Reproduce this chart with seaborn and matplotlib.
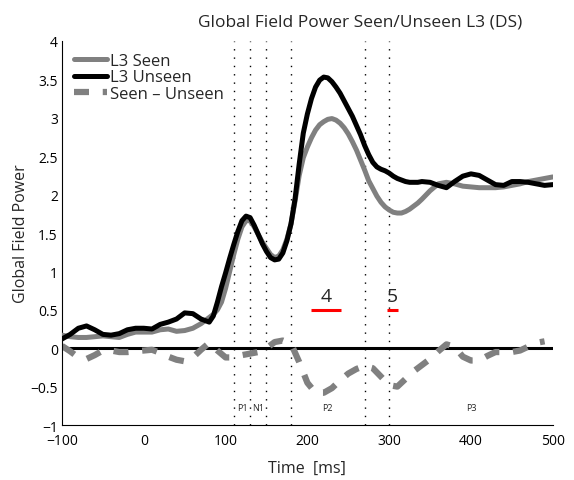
import numpy as np
import pandas as pd
import matplotlib
matplotlib.use("Agg")
import matplotlib.pyplot as plt
import seaborn as sns

time_ms = list(range(-100, 80, 10)) + list(range(80, 340, 5)) + list(range(340, 501, 10))
seen = [0.17, 0.15, 0.14, 0.14, 0.15, 0.16, 0.15, 0.14, 0.18, 0.21,
        0.21, 0.21, 0.24, 0.25, 0.22, 0.23, 0.26, 0.32,
        0.40, 0.44, 0.50, 0.60, 0.78, 1.00, 1.22, 1.42, 1.58, 1.66,
        1.66, 1.58, 1.48, 1.38, 1.30, 1.22, 1.18, 1.20, 1.28, 1.42,
        1.62, 1.92, 2.25, 2.48, 2.62, 2.74, 2.84, 2.91, 2.95, 2.98,
        2.99, 2.97, 2.93, 2.87, 2.79, 2.69, 2.58, 2.45, 2.32, 2.18,
        2.08, 1.98, 1.90, 1.84, 1.80, 1.77, 1.76, 1.76, 1.78, 1.81,
        1.85, 1.89,
        1.94, 2.05, 2.14, 2.16, 2.14, 2.11, 2.10, 2.09, 2.09, 2.09,
        2.10, 2.12, 2.14, 2.17, 2.19, 2.21, 2.23]
unseen = [0.12, 0.18, 0.26, 0.29, 0.24, 0.18, 0.17, 0.19, 0.24, 0.26,
          0.26, 0.25, 0.31, 0.34, 0.38, 0.46, 0.45, 0.38,
          0.34, 0.42, 0.60, 0.80, 0.98, 1.17, 1.35, 1.52, 1.66, 1.72,
          1.70, 1.60, 1.48, 1.36, 1.26, 1.18, 1.15, 1.16, 1.24, 1.40,
          1.62, 1.95, 2.40, 2.80, 3.05, 3.25, 3.40, 3.49, 3.53, 3.52,
          3.47, 3.40, 3.32, 3.22, 3.12, 3.02, 2.90, 2.78, 2.64, 2.52,
          2.42, 2.36, 2.33, 2.31, 2.28, 2.24, 2.21, 2.19, 2.17, 2.16,
          2.16, 2.16,
          2.17, 2.16, 2.12, 2.09, 2.17, 2.24, 2.27, 2.25, 2.19, 2.13,
          2.12, 2.17, 2.17, 2.16, 2.14, 2.12, 2.13]
diff_time = list(range(-100, 491, 10))
diff = [0.03, -0.04, -0.12, -0.14, -0.09, -0.03, -0.03, -0.05, -0.05, -0.04,
        -0.03, -0.02, -0.06, -0.11, -0.15, -0.17, -0.12, -0.02, 0.07, -0.03,
        -0.12, -0.12, -0.09, -0.07, -0.05, 0.0, 0.08, 0.10, 0.06, -0.18,
        -0.45, -0.58, -0.58, -0.52, -0.42, -0.33, -0.27, -0.23, -0.26, -0.37,
        -0.48, -0.50, -0.40, -0.30, -0.22, -0.14, -0.04, 0.05, 0.02, -0.11,
        -0.16, -0.16, -0.10, -0.05, -0.05, -0.05, -0.03, 0.02, 0.07, 0.09]

boundaries = [110, 130, 150, 180, 270, 300]
comp_labels = ["P1", "N1", "P2", "P3"]
comp_pos = [120, 140, 225, 400]
win_labels = ["4", "5"]
win_start = [204, 297]
win_end = [241, 311]
win_y = [0.5, 0.5]

sns.set_style("white")
plt.rcParams['font.family'] = ['Open Sans', 'DejaVu Sans']

fig = plt.figure(figsize=(5.74, 4.81), dpi=100)
ax = fig.add_axes([0.108, 0.1143, 0.855, 0.7984])

df_s = pd.DataFrame({"t": time_ms, "v": seen})
df_u = pd.DataFrame({"t": time_ms, "v": unseen})
df_d = pd.DataFrame({"t": diff_time, "v": diff})

ax.axhline(0, color="black", lw=2.2, zorder=1)
for b in boundaries:
    ax.axvline(b, color="black", lw=1.0, ls=(0, (1, 5)), zorder=0)

sns.lineplot(data=df_s, x="t", y="v", ax=ax, color="#808080", lw=3.6,
             label="L3 Seen", zorder=3, solid_joinstyle="round")
sns.lineplot(data=df_u, x="t", y="v", ax=ax, color="black", lw=3.6,
             label="L3 Unseen", zorder=4, solid_joinstyle="round")
sns.lineplot(data=df_d, x="t", y="v", ax=ax, color="#808080", lw=4.5,
             label="Seen \u2013 Unseen", zorder=2)
ax.lines[-1].set_linestyle((0, (2.4, 2.2)))

for lab, xs, xe, yy in zip(win_labels, win_start, win_end, win_y):
    ax.plot([xs, xe], [yy, yy], color="red", lw=2.2, solid_capstyle="butt")
    ax.text((xs + xe) / 2, yy + 0.06, lab, ha="center", va="bottom", fontsize=14)

for lab, xp in zip(comp_labels, comp_pos):
    ax.text(xp, -0.77, lab, ha="center", va="center", fontsize=6.5,
            bbox=dict(facecolor="white", edgecolor="none", pad=0.3))

ax.set_xlim(-100, 500)
ax.set_ylim(-1, 4)
ax.set_xticks(range(-100, 501, 100))
ax.set_yticks(np.arange(-1, 4.01, 0.5))
ax.set_yticklabels(["\u22121" if v == -1 else ("\u22120.5" if v == -0.5 else f"{v:g}")
                    for v in np.arange(-1, 4.01, 0.5)])
ax.tick_params(direction="in", length=4, width=0.8, labelsize=10, colors="black")
ax.tick_params(axis="x", pad=6)
ax.tick_params(axis="y", pad=3)
for s in ["top", "right"]:
    ax.spines[s].set_visible(False)
for s in ["left", "bottom"]:
    ax.spines[s].set_color("black")
    ax.spines[s].set_linewidth(0.8)

ax.set_xlabel("Time  [ms]", fontsize=11.5, labelpad=8)
ax.set_ylabel("Global Field Power", fontsize=11.5, labelpad=1)
ax.set_title("Global Field Power Seen/Unseen L3 (DS)", fontsize=12.5, pad=11, x=0.607)

leg = ax.legend(loc="upper left", frameon=False, fontsize=12, handlelength=2.0,
                handletextpad=0.2, borderaxespad=0.3, labelspacing=0.05)

fig.savefig("out.png", dpi=100)
